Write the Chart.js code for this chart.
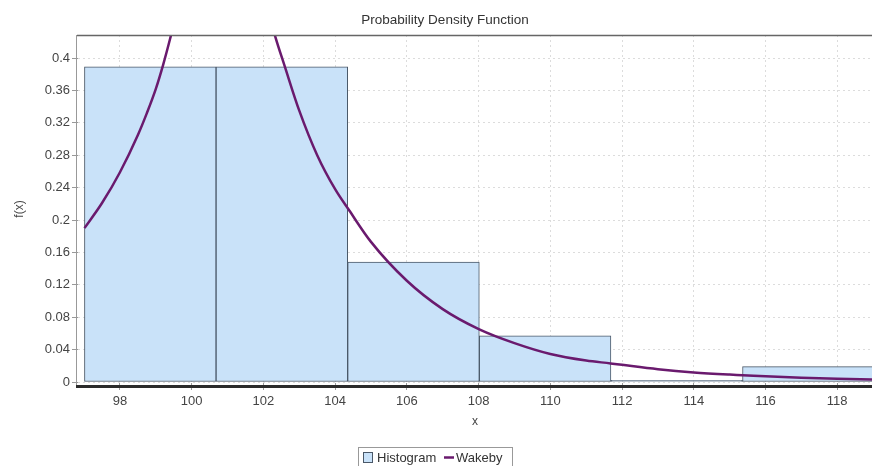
<!DOCTYPE html>
<html>
<head>
<meta charset="utf-8">
<script src="https://cdn.jsdelivr.net/npm/chart.js@4/dist/chart.umd.min.js"></script>
<style>
  html, body { margin: 0; padding: 0; background: #fff; }
  #wrap { width: 872px; height: 466px; }
</style>
</head>
<body>
<div id="wrap"><canvas id="chart" width="872" height="466"></canvas></div>
<script>
// histogram bins (edges) and heights
var binEdges = [97.01, 100.68, 104.35, 108.02, 111.69, 115.36, 119.03];
var binHeights = [0.389, 0.389, 0.148, 0.057, 0.002, 0.019];

// Wakeby fitted density (peak runs off the top)
var wakebyX = [97.01, 97.5, 98.0, 98.5, 98.75, 99.0, 99.2, 99.4, 99.6, 99.9, 100.7, 101.6, 102.0, 102.32, 102.6, 103.0, 103.5, 104.0, 104.39, 105.0, 106.0, 107.0, 108.02, 109.0, 110.0, 111.0, 111.68, 112.0, 113.0, 114.0, 115.0, 115.36, 116.0, 117.0, 118.0, 118.97];
var wakebyY = [0.19, 0.221, 0.259, 0.305, 0.332, 0.362, 0.391, 0.424, 0.46, 0.52, 0.62, 0.56, 0.48, 0.428, 0.389, 0.335, 0.28, 0.238, 0.212, 0.173, 0.125, 0.09, 0.065, 0.048, 0.0346, 0.0265, 0.023, 0.0212, 0.0158, 0.0118, 0.0092, 0.0085, 0.007, 0.0052, 0.0039, 0.003];

var xTicks = [98, 100, 102, 104, 106, 108, 110, 112, 114, 116, 118];
var yTicks = [0, 0.04, 0.08, 0.12, 0.16, 0.2, 0.24, 0.28, 0.32, 0.36, 0.4];

var font = 'Liberation Sans, Arial, sans-serif';

var histData = [];
for (let i = 0; i < binHeights.length; i++) {
    histData.push({ x: (binEdges[i] + binEdges[i + 1]) / 2, y: binHeights[i] });
}
var curveData = [];
for (let i = 0; i < wakebyX.length; i++) {
    curveData.push({ x: wakebyX[i], y: wakebyY[i] });
}

// frame, axis lines, title and legend like the original
var decorations = {
    id: 'decorations',
    afterDraw: function (chart) {
        let ctx = chart.ctx;
        let a = chart.chartArea;
        ctx.save();
        // plot frame
        ctx.strokeStyle = '#666';
        ctx.lineWidth = 1.5;
        ctx.beginPath();
        ctx.moveTo(a.left - 1, a.top + 0.5);
        ctx.lineTo(a.right, a.top + 0.5);
        ctx.stroke();
        ctx.strokeStyle = '#999';
        ctx.lineWidth = 1;
        ctx.beginPath();
        ctx.moveTo(a.left - 1.5, a.top);
        ctx.lineTo(a.left - 1.5, a.bottom + 4);
        ctx.stroke();
        // x axis line
        ctx.strokeStyle = '#2b2b2b';
        ctx.lineWidth = 3;
        ctx.beginPath();
        ctx.moveTo(a.left - 2, a.bottom + 3.5);
        ctx.lineTo(a.right, a.bottom + 3.5);
        ctx.stroke();

        // title
        ctx.fillStyle = '#333';
        ctx.font = '13.5px ' + font;
        ctx.textAlign = 'center';
        ctx.textBaseline = 'middle';
        ctx.fillText('Probability Density Function', 445, 20);

        // legend
        let lx = 358, ly = 447;
        ctx.font = '13px ' + font;
        ctx.strokeStyle = '#999';
        ctx.lineWidth = 1;
        ctx.strokeRect(lx + 0.5, ly + 0.5, 154, 20);
        ctx.fillStyle = '#c9e2f9';
        ctx.fillRect(lx + 5, ly + 5, 9, 10);
        ctx.strokeStyle = '#4a5868';
        ctx.strokeRect(lx + 5.5, ly + 5.5, 9, 10);
        ctx.fillStyle = '#333';
        ctx.textAlign = 'left';
        ctx.fillText('Histogram', lx + 19, ly + 11);
        ctx.strokeStyle = '#6a1a6e';
        ctx.lineWidth = 2.5;
        ctx.beginPath();
        ctx.moveTo(lx + 86, ly + 10.5);
        ctx.lineTo(lx + 96, ly + 10.5);
        ctx.stroke();
        ctx.fillText('Wakeby', lx + 98, ly + 11);
        ctx.restore();
    }
};

var ctx = document.getElementById('chart').getContext('2d');
window.chart = new Chart(ctx, {
    type: 'bar',
    data: {
        datasets: [{
            type: 'line',
            label: 'Wakeby',
            data: curveData,
            borderColor: '#6a1a6e',
            borderWidth: 2.5,
            pointRadius: 0,
            fill: false,
            cubicInterpolationMode: 'monotone',
            order: 1
        }, {
            label: 'Histogram',
            data: histData,
            backgroundColor: '#c9e2f9',
            borderColor: '#4a5868',
            borderWidth: 1,
            borderSkipped: false,
            barThickness: 'flex',
            categoryPercentage: 1,
            barPercentage: 1,
            order: 2
        }]
    },
    options: {
        responsive: false,
        animation: false,
        layout: { padding: { top: 35, left: 0, right: 0, bottom: 0 } },
        plugins: {
            legend: { display: false },
            title: { display: false },
            tooltip: { enabled: false }
        },
        scales: {
            x: {
                type: 'linear',
                min: 96.83,
                max: 118.97,
                offset: false,
                afterBuildTicks: function (scale) {
                    scale.ticks = xTicks.map(function (v) { return { value: v }; });
                },
                afterFit: function (scale) { scale.height = 83; },
                grid: {
                    offset: false,
                    color: '#dcdcdc',
                    tickColor: '#999',
                    tickLength: 7,
                    drawTicks: true
                },
                border: { display: false, dash: [2, 3] },
                ticks: {
                    color: '#444',
                    font: { family: font, size: 13 },
                    padding: 4,
                    maxRotation: 0,
                    autoSkip: false,
                    callback: function (v) { return String(v); }
                },
                title: {
                    display: true,
                    text: 'x',
                    color: '#444',
                    font: { family: font, size: 12 },
                    padding: { top: 0, bottom: 37 }
                }
            },
            y: {
                min: -0.0012,
                max: 0.4284,
                afterBuildTicks: function (scale) {
                    scale.ticks = yTicks.map(function (v) { return { value: v }; });
                },
                afterFit: function (scale) { scale.width = 78; },
                grid: {
                    color: '#dcdcdc',
                    tickColor: '#999',
                    tickLength: 6,
                    drawTicks: true
                },
                border: { display: false, dash: [2, 3] },
                ticks: {
                    color: '#444',
                    font: { family: font, size: 13 },
                    padding: 2,
                    autoSkip: false,
                    callback: function (v) { return String(+v.toFixed(2)); }
                },
                title: {
                    display: true,
                    text: 'f(x)',
                    color: '#444',
                    font: { family: font, size: 12 },
                    padding: { top: 12, bottom: 0 }
                }
            }
        }
    },
    plugins: [decorations]
});
</script>
</body>
</html>
